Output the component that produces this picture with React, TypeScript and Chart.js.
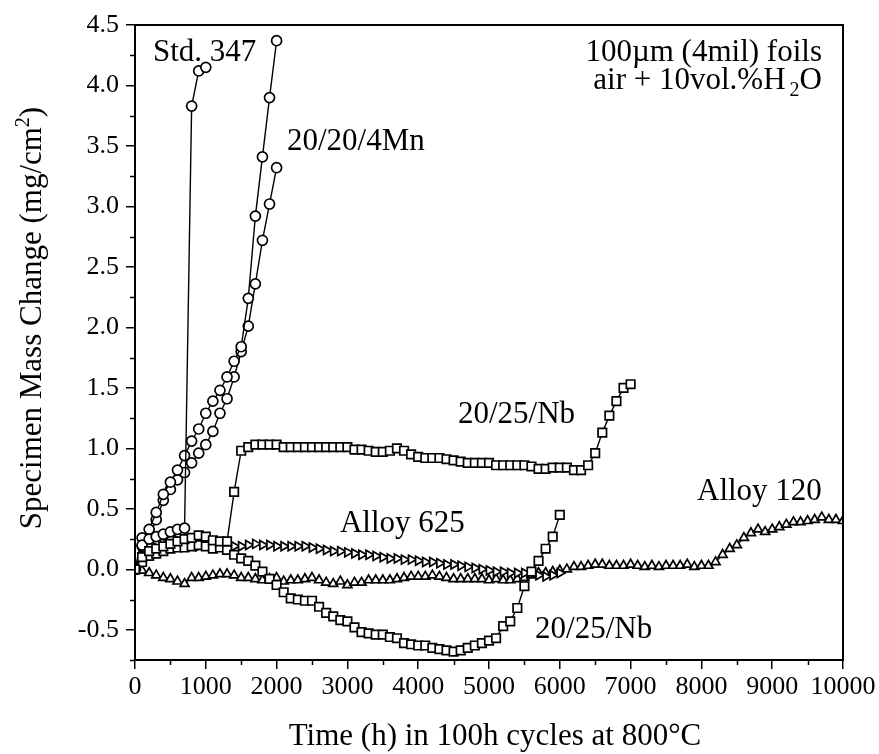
import React, { useEffect, useRef } from "react";
import { Chart, registerables } from "chart.js";

Chart.register(...registerables);

// ---------- data (time in h, mass change in mg/cm2) ----------
const HOURS = [
  0, 100, 200, 300, 400, 500, 600, 700, 800, 900,
  1000, 1100, 1200, 1300, 1400, 1500, 1600, 1700, 1800, 1900,
  2000, 2100, 2200, 2300, 2400, 2500, 2600, 2700, 2800, 2900,
  3000, 3100, 3200, 3300, 3400, 3500, 3600, 3700, 3800, 3900,
  4000, 4100, 4200, 4300, 4400, 4500, 4600, 4700, 4800, 4900,
  5000, 5100, 5200, 5300, 5400, 5500, 5600, 5700, 5800, 5900,
  6000, 6100, 6200, 6300, 6400, 6500, 6600, 6700, 6800, 6900,
  7000, 7100, 7200, 7300, 7400, 7500, 7600, 7700, 7800, 7900,
  8000, 8100, 8200, 8300, 8400, 8500, 8600, 8700, 8800, 8900,
  9000, 9100, 9200, 9300, 9400, 9500, 9600, 9700, 9800, 9900,
  10000,
];

const std347 = [0, 0.2, 0.25, 0.27, 0.29, 0.31, 0.33, 0.34, 3.83, 4.12, 4.15];

const mn20A = [
  0, 0.26, 0.33, 0.47, 0.62, 0.72, 0.82, 0.94, 1.06, 1.16,
  1.29, 1.39, 1.48, 1.59, 1.72, 1.84, 2.24, 2.92, 3.41, 3.9,
  4.37,
];
const mn20B = [
  0, 0.19, 0.27, 0.41, 0.57, 0.66, 0.74, 0.8, 0.88, 0.96,
  1.03, 1.14, 1.29, 1.41, 1.59, 1.8, 2.01, 2.36, 2.72, 3.02,
  3.32,
];

const nb25Upper = [
  0, 0.1, 0.15, 0.17, 0.19, 0.21, 0.23, 0.25, 0.26, 0.28,
  0.27, 0.24, 0.23, 0.23, 0.64, 0.98, 1.01, 1.03, 1.03, 1.03,
  1.03, 1.01, 1.01, 1.01, 1.01, 1.01, 1.01, 1.01, 1.01, 1.01,
  1.01, 0.99, 0.99, 0.98, 0.97, 0.97, 0.98, 1.0, 0.98, 0.95,
  0.93, 0.92, 0.92, 0.92, 0.91, 0.9, 0.89, 0.88, 0.88, 0.88,
  0.88, 0.86, 0.86, 0.86, 0.86, 0.86, 0.85, 0.83, 0.83, 0.84,
  0.84, 0.84, 0.82, 0.82, 0.86, 0.96, 1.13, 1.27, 1.39, 1.5,
  1.53,
];

const nb25Lower = [
  0, 0.06, 0.11, 0.13, 0.15, 0.17, 0.18, 0.18, 0.19, 0.2,
  0.19, 0.17, 0.18, 0.16, 0.12, 0.09, 0.07, 0.03, -0.02, -0.08,
  -0.13, -0.19, -0.24, -0.25, -0.26, -0.26, -0.31, -0.36, -0.39, -0.42,
  -0.43, -0.48, -0.52, -0.53, -0.54, -0.54, -0.56, -0.57, -0.61, -0.62,
  -0.63, -0.63, -0.65, -0.66, -0.67, -0.68, -0.67, -0.65, -0.63, -0.61,
  -0.59, -0.57, -0.47, -0.43, -0.32, -0.14, -0.02, 0.07, 0.17, 0.27,
  0.45,
];

const alloy625 = [
  0, 0.1, 0.15, 0.18, 0.22, 0.3, 0.24, 0.2, 0.19, 0.19,
  0.2, 0.2, 0.2, 0.19, 0.19, 0.19, 0.2, 0.21, 0.2, 0.2,
  0.19, 0.19, 0.19, 0.19, 0.19, 0.18, 0.17, 0.16, 0.15, 0.15,
  0.14, 0.13, 0.12, 0.12, 0.11, 0.1, 0.09, 0.09, 0.08, 0.08,
  0.07, 0.06, 0.06, 0.05, 0.04, 0.04, 0.03, 0.02, 0.01, 0.0,
  -0.01, -0.02, -0.02, -0.03, -0.03, -0.03, -0.04, -0.05, -0.06, -0.05,
  -0.03,
];

const alloy120 = [
  0, -0.01, -0.03, -0.05, -0.07, -0.08, -0.1, -0.12, -0.07, -0.07,
  -0.06, -0.05, -0.04, -0.04, -0.05, -0.07, -0.07, -0.08, -0.09, -0.08,
  -0.07, -0.1, -0.09, -0.09, -0.08, -0.07, -0.09, -0.11, -0.12, -0.1,
  -0.13, -0.11, -0.11, -0.09, -0.09, -0.09, -0.09, -0.08, -0.07, -0.06,
  -0.06, -0.06, -0.05, -0.06, -0.07, -0.08, -0.08, -0.08, -0.08, -0.08,
  -0.09, -0.08, -0.09, -0.09, -0.08, -0.07, -0.05, -0.03, -0.03, -0.02,
  -0.01, 0.0, 0.02, 0.02, 0.03, 0.04, 0.04, 0.03, 0.03, 0.03,
  0.04, 0.03, 0.02, 0.03, 0.02, 0.03, 0.03, 0.03, 0.04, 0.02,
  0.03, 0.03, 0.06, 0.12, 0.17, 0.2, 0.26, 0.3, 0.33, 0.31,
  0.33, 0.35, 0.37, 0.39, 0.39, 0.4, 0.41, 0.43, 0.41, 0.41,
  0.4,
];

// ---------- axes ----------
const X_TICKS = [0, 1000, 2000, 3000, 4000, 5000, 6000, 7000, 8000, 9000, 10000];
const X_MINOR = [500, 1500, 2500, 3500, 4500, 5500, 6500, 7500, 8500, 9500];
const Y_TICKS = [-0.5, 0, 0.5, 1, 1.5, 2, 2.5, 3, 3.5, 4, 4.5];
const Y_MINOR = [-0.75, -0.25, 0.25, 0.75, 1.25, 1.75, 2.25, 2.75, 3.25, 3.75, 4.25];

const X_TITLE = "Time (h) in 100h cycles at 800°C";
const Y_TITLE_MAIN = "Specimen Mass Change (mg/cm";
const Y_TITLE_SUP = "2";
const Y_TITLE_END = ")";

// annotation texts with anchors in data coordinates
const LABELS = [
  { text: "Std. 347", x: 254, y: 4.2, align: "left" },
  { text: "20/20/4Mn", x: 2147, y: 3.47, align: "left" },
  { text: "20/25/Nb", x: 4562, y: 1.21, align: "left" },
  { text: "Alloy 625", x: 2895, y: 0.31, align: "left" },
  { text: "Alloy 120", x: 7938, y: 0.57, align: "left" },
  { text: "20/25/Nb", x: 5650, y: -0.57, align: "left" },
  { text: "100µm (4mil) foils", x: 9703, y: 4.2, align: "right" },
];
const NOTE2 = { pre: "air + 10vol.%H", sub: "2", post: "O", x: 9703, y: 3.97 };

const FONT = "'Liberation Serif', 'Times New Roman', Times, serif";

function series(values: number[]) {
  return values.map((v, i) => ({ x: HOURS[i], y: v }));
}

const overlay = {
  id: "overlay",
  afterDraw(chart: any) {
    const { ctx, chartArea: a, scales } = chart;
    const xs = scales.x;
    const ys = scales.y;
    ctx.save();
    ctx.strokeStyle = "#000";
    ctx.fillStyle = "#000";
    ctx.lineWidth = 2;
    ctx.strokeRect(a.left, a.top, a.right - a.left, a.bottom - a.top);

    ctx.lineWidth = 1.5;
    ctx.beginPath();
    X_MINOR.forEach((v) => {
      const px = Math.round(xs.getPixelForValue(v)) + 0.5;
      ctx.moveTo(px, a.bottom);
      ctx.lineTo(px, a.bottom + 5);
    });
    Y_MINOR.forEach((v) => {
      const py = Math.round(ys.getPixelForValue(v)) + 0.5;
      ctx.moveTo(a.left, py);
      ctx.lineTo(a.left - 5, py);
    });
    ctx.stroke();

    ctx.textBaseline = "alphabetic";
    // x title
    ctx.font = `31px ${FONT}`;
    ctx.textAlign = "center";
    ctx.fillText(X_TITLE, (a.left + a.right) / 2 + 6, a.bottom + 85);

    // y title (rotated, with superscript)
    ctx.save();
    ctx.translate(30, 318);
    ctx.rotate(-Math.PI / 2);
    ctx.textAlign = "left";
    ctx.font = `31px ${FONT}`;
    const w1 = ctx.measureText(Y_TITLE_MAIN).width;
    const w3 = ctx.measureText(Y_TITLE_END).width;
    ctx.font = `20px ${FONT}`;
    const w2 = ctx.measureText(Y_TITLE_SUP).width;
    const total = w1 + w2 + w3;
    let sx = -total / 2;
    ctx.font = `31px ${FONT}`;
    ctx.fillText(Y_TITLE_MAIN, sx, 11);
    sx += w1;
    ctx.font = `20px ${FONT}`;
    ctx.fillText(Y_TITLE_SUP, sx, -1);
    sx += w2;
    ctx.font = `31px ${FONT}`;
    ctx.fillText(Y_TITLE_END, sx, 11);
    ctx.restore();

    // annotations
    ctx.font = `31px ${FONT}`;
    LABELS.forEach((l) => {
      ctx.textAlign = l.align;
      ctx.fillText(l.text, xs.getPixelForValue(l.x), ys.getPixelForValue(l.y));
    });

    // air + 10vol.%H2O with subscript
    ctx.textAlign = "left";
    ctx.font = `31px ${FONT}`;
    const p1 = ctx.measureText(NOTE2.pre).width;
    const p3 = ctx.measureText(NOTE2.post).width;
    ctx.font = `20px ${FONT}`;
    const p2 = ctx.measureText(NOTE2.sub).width;
    const gap = 4;
    const right = xs.getPixelForValue(NOTE2.x);
    const base = ys.getPixelForValue(NOTE2.y);
    let nx = right - (p1 + gap + p2 + p3);
    ctx.font = `31px ${FONT}`;
    ctx.fillText(NOTE2.pre, nx, base);
    nx += p1 + gap;
    ctx.font = `20px ${FONT}`;
    ctx.fillText(NOTE2.sub, nx, base + 7);
    nx += p2;
    ctx.font = `31px ${FONT}`;
    ctx.fillText(NOTE2.post, nx, base);

    ctx.restore();
  },
};

function ds(values: number[], style: string, radius: number, rotation = 0) {
  return {
    data: series(values),
    showLine: true,
    borderColor: "#000",
    borderWidth: 1.4,
    pointStyle: style,
    pointRadius: radius,
    pointRotation: rotation,
    pointBorderWidth: 1.7,
    pointBorderColor: "#000",
    pointBackgroundColor: "#fff",
    fill: false,
    tension: 0,
  };
}

export default function App() {
  const ref = useRef<HTMLCanvasElement | null>(null);

  useEffect(() => {
    if (!ref.current) return;
    const chart = new Chart(ref.current, {
      type: "scatter",
      data: {
        datasets: [
          ds(nb25Upper, "rect", 6.0),
          ds(nb25Lower, "rect", 6.0),
          ds(std347, "circle", 5.0),
          ds(mn20A, "circle", 5.0),
          ds(mn20B, "circle", 5.0),
          ds(alloy625, "triangle", 5.2, 90),
          ds(alloy120, "triangle", 5.2),
        ] as any,
      },
      options: {
        animation: false,
        responsive: false,
        devicePixelRatio: 1,
        layout: { padding: { top: 25, right: 36, left: 0, bottom: 0 } },
        plugins: {
          legend: { display: false },
          tooltip: { enabled: false },
          title: { display: false },
        },
        scales: {
          x: {
            type: "linear",
            min: 0,
            max: 10000,
            afterFit: (s: any) => {
              s.height = 94;
            },
            afterBuildTicks: (s: any) => {
              s.ticks = X_TICKS.map((v) => ({ value: v }));
            },
            ticks: {
              color: "#000",
              font: { family: FONT, size: 26 },
              padding: 3,
              maxRotation: 0,
              autoSkip: false,
              callback: (v: any) => String(v),
            },
            grid: {
              display: true,
              drawOnChartArea: false,
              drawTicks: true,
              tickLength: 9,
              color: "#000",
              lineWidth: 1.5,
            },
            border: { display: true, color: "#000", width: 2 },
          },
          y: {
            type: "linear",
            min: -0.75,
            max: 4.5,
            afterFit: (s: any) => {
              s.width = 135;
            },
            afterBuildTicks: (s: any) => {
              s.ticks = Y_TICKS.map((v) => ({ value: v }));
            },
            ticks: {
              color: "#000",
              font: { family: FONT, size: 26 },
              padding: 7,
              autoSkip: false,
              callback: (v: any) => Number(v).toFixed(1),
            },
            grid: {
              display: true,
              drawOnChartArea: false,
              drawTicks: true,
              tickLength: 9,
              color: "#000",
              lineWidth: 1.5,
            },
            border: { display: true, color: "#000", width: 2 },
          },
        },
      } as any,
      plugins: [overlay],
    });
    return () => chart.destroy();
  }, []);

  return (
    <div style={{ position: "fixed", left: 0, top: 0, width: 879, height: 754, background: "#fff" }}>
      <canvas ref={ref} width={879} height={754} style={{ display: "block", width: 879, height: 754 }} />
    </div>
  );
}
